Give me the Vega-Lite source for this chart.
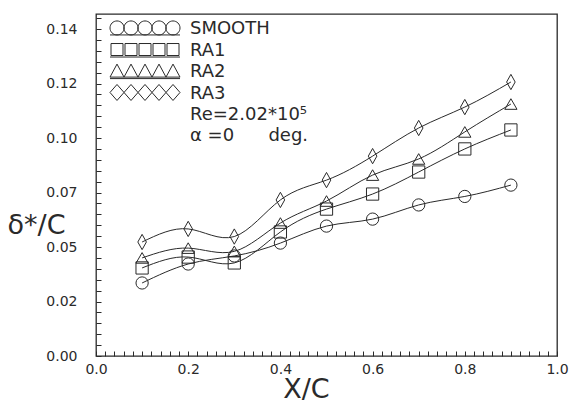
{
  "$schema": "https://vega.github.io/schema/vega-lite/v6.json",
  "width": 461,
  "height": 342,
  "autosize": "none",
  "padding": {"left": 96, "top": 14, "right": 12, "bottom": 48},
  "background": "white",
  "config": {
    "view": {"stroke": "#2a2a2a", "strokeWidth": 1.3},
    "font": "DejaVu Sans"
  },
  "data": {
    "values": [
      {"series": "SMOOTH", "x": 0.1, "y": 0.0335},
      {"series": "SMOOTH", "x": 0.2, "y": 0.0422},
      {"series": "SMOOTH", "x": 0.3, "y": 0.0459},
      {"series": "SMOOTH", "x": 0.4, "y": 0.0518},
      {"series": "SMOOTH", "x": 0.5, "y": 0.0596},
      {"series": "SMOOTH", "x": 0.6, "y": 0.0628},
      {"series": "SMOOTH", "x": 0.7, "y": 0.0693},
      {"series": "SMOOTH", "x": 0.8, "y": 0.0732},
      {"series": "SMOOTH", "x": 0.9, "y": 0.0784},
      {"series": "RA1", "x": 0.1, "y": 0.0404},
      {"series": "RA1", "x": 0.2, "y": 0.0454},
      {"series": "RA1", "x": 0.3, "y": 0.0427},
      {"series": "RA1", "x": 0.4, "y": 0.0569},
      {"series": "RA1", "x": 0.5, "y": 0.0674},
      {"series": "RA1", "x": 0.6, "y": 0.0743},
      {"series": "RA1", "x": 0.7, "y": 0.0844},
      {"series": "RA1", "x": 0.8, "y": 0.0950},
      {"series": "RA1", "x": 0.9, "y": 0.1037},
      {"series": "RA2", "x": 0.1, "y": 0.0450},
      {"series": "RA2", "x": 0.2, "y": 0.0495},
      {"series": "RA2", "x": 0.3, "y": 0.0480},
      {"series": "RA2", "x": 0.4, "y": 0.0610},
      {"series": "RA2", "x": 0.5, "y": 0.0711},
      {"series": "RA2", "x": 0.6, "y": 0.0830},
      {"series": "RA2", "x": 0.7, "y": 0.0904},
      {"series": "RA2", "x": 0.8, "y": 0.1028},
      {"series": "RA2", "x": 0.9, "y": 0.1156},
      {"series": "RA3", "x": 0.1, "y": 0.0523},
      {"series": "RA3", "x": 0.2, "y": 0.0583},
      {"series": "RA3", "x": 0.3, "y": 0.0548},
      {"series": "RA3", "x": 0.4, "y": 0.0716},
      {"series": "RA3", "x": 0.5, "y": 0.0807},
      {"series": "RA3", "x": 0.6, "y": 0.0917},
      {"series": "RA3", "x": 0.7, "y": 0.1046},
      {"series": "RA3", "x": 0.8, "y": 0.1142},
      {"series": "RA3", "x": 0.9, "y": 0.1257}
    ]
  },
  "layer": [
    {
      "mark": {"type": "line", "interpolate": "natural", "stroke": "#2a2a2a", "strokeWidth": 1},
      "encoding": {
        "x": {
          "field": "x", "type": "quantitative",
          "scale": {"domain": [0, 1], "nice": false},
          "axis": {
            "orient": "bottom", "tickCount": 200,
            "values": [0,0.02,0.04,0.06,0.08,0.1,0.12,0.14,0.16,0.18,0.2,0.22,0.24,0.26,0.28,0.3,0.32,0.34,0.36,0.38,0.4,0.42,0.44,0.46,0.48,0.5,0.52,0.54,0.56,0.58,0.6,0.62,0.64,0.66,0.68,0.7,0.72,0.74,0.76,0.78,0.8,0.82,0.84,0.86,0.88,0.9,0.92,0.94,0.96,0.98,1],
            "labelExpr": "abs(datum.value * 5 - round(datum.value * 5)) < 0.000001 ? format(datum.value, '.1f') : ''",
            "labelOverlap": false, "labelFlush": false, "labelBound": false,
            "ticks": true, "tickSize": -5, "tickColor": "#2a2a2a", "tickWidth": 1,
            "domain": false, "grid": false,
            "labelPadding": 11, "labelFont": "DejaVu Sans", "labelFontSize": 14, "labelColor": "#2a2a2a",
            "title": "X/C", "titleFont": "DejaVu Sans", "titleFontSize": 27, "titleFontWeight": "normal",
            "titleColor": "#2a2a2a", "titlePadding": 0, "titleX": 210, "titleAlign": "center"
          }
        },
        "y": {
          "field": "y", "type": "quantitative",
          "scale": {"domain": [0, 0.1569], "nice": false, "zero": true},
          "axis": {
            "orient": "left", "tickCount": 200,
            "values": [0,0.005,0.01,0.015,0.02,0.025,0.03,0.035,0.04,0.045,0.05,0.055,0.06,0.065,0.07,0.075,0.08,0.085,0.09,0.095,0.1,0.105,0.11,0.115,0.12,0.125,0.13,0.135,0.14,0.145,0.15,0.155],
            "labelExpr": "abs(datum.value * 40 - round(datum.value * 40)) < 0.000001 ? (datum.value > 0.149 ? '0.14' : format(floor(datum.value * 100 + 0.0001) / 100, '.2f')) : ''",
            "labelOverlap": false, "labelBound": false, "labelFlush": false,
            "ticks": true, "tickSize": -5, "tickColor": "#2a2a2a", "tickWidth": 1,
            "domain": false, "grid": false,
            "labelPadding": 24, "labelFont": "DejaVu Sans", "labelFontSize": 14, "labelColor": "#2a2a2a",
            "title": "δ*/C", "titleAngle": 0, "titleX": -60, "titleY": 211,
            "titleAlign": "center", "titleBaseline": "middle",
            "titleFont": "DejaVu Sans", "titleFontSize": 27, "titleFontWeight": "normal", "titleColor": "#2a2a2a"
          }
        },
        "detail": {"field": "series"}
      }
    },
    {
      "mark": {"type": "point", "filled": false, "size": 150, "stroke": "#2a2a2a", "strokeWidth": 1, "opacity": 1},
      "encoding": {
        "x": {"field": "x", "type": "quantitative"},
        "y": {"field": "y", "type": "quantitative"},
        "shape": {
          "field": "series", "type": "nominal",
          "scale": {
            "domain": ["SMOOTH", "RA1", "RA2", "RA3"],
            "range": ["circle", "square", "triangle-up", "M0,-1.25L0.7,0L0,1.25L-0.7,0Z"]
          },
          "legend": null
        }
      }
    },
    {
      "data": {"values": [{}]},
      "mark": {
        "type": "point", "filled": false, "size": 100, "stroke": "#2a2a2a", "strokeWidth": 1, "opacity": 1,
        "shape": "M-4.2,0C-4.2,0.773 -4.827,1.4 -5.6,1.4C-6.373,1.4 -7,0.773 -7,0C-7,-0.773 -6.373,-1.4 -5.6,-1.4C-4.827,-1.4 -4.2,-0.773 -4.2,0ZM-1.4,0C-1.4,0.773 -2.027,1.4 -2.8,1.4C-3.573,1.4 -4.2,0.773 -4.2,0C-4.2,-0.773 -3.573,-1.4 -2.8,-1.4C-2.027,-1.4 -1.4,-0.773 -1.4,0ZM1.4,0C1.4,0.773 0.773,1.4 0,1.4C-0.773,1.4 -1.4,0.773 -1.4,0C-1.4,-0.773 -0.773,-1.4 0,-1.4C0.773,-1.4 1.4,-0.773 1.4,0ZM4.2,0C4.2,0.773 3.573,1.4 2.8,1.4C2.027,1.4 1.4,0.773 1.4,0C1.4,-0.773 2.027,-1.4 2.8,-1.4C3.573,-1.4 4.2,-0.773 4.2,0ZM7,0C7,0.773 6.373,1.4 5.6,1.4C4.827,1.4 4.2,0.773 4.2,0C4.2,-0.773 4.827,-1.4 5.6,-1.4C6.373,-1.4 7,-0.773 7,0ZM-7,1.4L7,1.4"
      },
      "encoding": {
        "x": {"datum": 0.1063, "type": "quantitative"},
        "y": {"datum": 0.1505, "type": "quantitative"}
      }
    },
    {
      "data": {"values": [{}]},
      "mark": {
        "type": "point", "filled": false, "size": 100, "stroke": "#2a2a2a", "strokeWidth": 1, "opacity": 1,
        "shape": "M-6.8,-1.2L-4.4,-1.2L-4.4,1.2L-6.8,1.2ZM-4,-1.2L-1.6,-1.2L-1.6,1.2L-4,1.2ZM-1.2,-1.2L1.2,-1.2L1.2,1.2L-1.2,1.2ZM1.6,-1.2L4,-1.2L4,1.2L1.6,1.2ZM4.4,-1.2L6.8,-1.2L6.8,1.2L4.4,1.2ZM-7,1.5L7,1.5"
      },
      "encoding": {
        "x": {"datum": 0.1063, "type": "quantitative"},
        "y": {"datum": 0.1406, "type": "quantitative"}
      }
    },
    {
      "data": {"values": [{}]},
      "mark": {
        "type": "point", "filled": false, "size": 100, "stroke": "#2a2a2a", "strokeWidth": 1, "opacity": 1,
        "shape": "M-7,1.2L-5.6,-1.4L-4.2,1.2ZM-4.2,1.2L-2.8,-1.4L-1.4,1.2ZM-1.4,1.2L0,-1.4L1.4,1.2ZM1.4,1.2L2.8,-1.4L4.2,1.2ZM4.2,1.2L5.6,-1.4L7,1.2ZM-7,1.5L7,1.5"
      },
      "encoding": {
        "x": {"datum": 0.1063, "type": "quantitative"},
        "y": {"datum": 0.1307, "type": "quantitative"}
      }
    },
    {
      "data": {"values": [{}]},
      "mark": {
        "type": "point", "filled": false, "size": 100, "stroke": "#2a2a2a", "strokeWidth": 1, "opacity": 1,
        "shape": "M-5.6,-1.6L-4.2,0L-5.6,1.6L-7,0ZM-2.8,-1.6L-1.4,0L-2.8,1.6L-4.2,0ZM0,-1.6L1.4,0L0,1.6L-1.4,0ZM2.8,-1.6L4.2,0L2.8,1.6L1.4,0ZM5.6,-1.6L7,0L5.6,1.6L4.2,0Z"
      },
      "encoding": {
        "x": {"datum": 0.1063, "type": "quantitative"},
        "y": {"datum": 0.1209, "type": "quantitative"}
      }
    },
    {
      "data": {"values": [{}]},
      "mark": {
        "type": "text", "align": "left", "baseline": "alphabetic",
        "font": "DejaVu Sans", "fontSize": 18, "lineHeight": 21.4, "color": "#2a2a2a",
        "text": ["SMOOTH", "RA1", "RA2", "RA3", "Re=2.02*10⁵", "α =0\u00a0\u00a0\u00a0\u00a0\u00a0\u00a0deg."]
      },
      "encoding": {
        "x": {"datum": 0.2039, "type": "quantitative"},
        "y": {"datum": 0.1475, "type": "quantitative"}
      }
    }
  ]
}
